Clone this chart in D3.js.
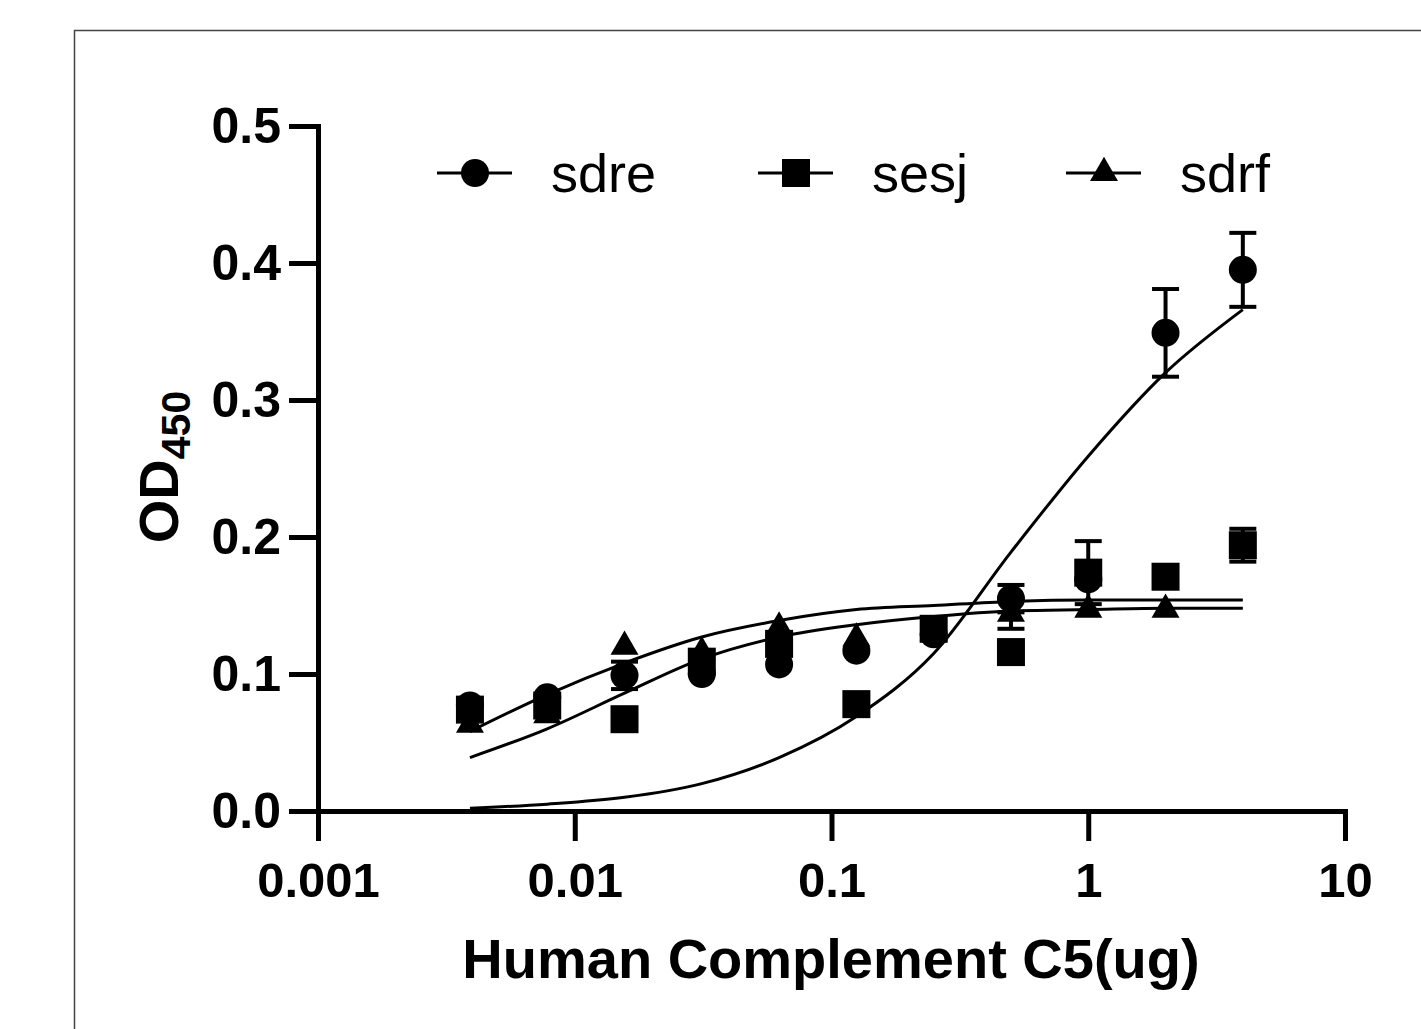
<!DOCTYPE html>
<html>
<head>
<meta charset="utf-8">
<script src="https://cdn.jsdelivr.net/npm/d3@7"></script>
<style>
  body { margin: 0; background: #fff; }
  text { font-family: Arial, "Liberation Sans", sans-serif; fill: #000; }
</style>
</head>
<body>
<script>
// doses (ug) of the 2-fold dilution series
const doses = [0.00390625, 0.0078125, 0.015625, 0.03125, 0.0625, 0.125, 0.25, 0.5, 1, 2, 4];

// mean OD450 and error (0 = no visible bar)
const sdreMean = [0.077, 0.083, 0.099, 0.100, 0.107, 0.117, 0.129, 0.155, 0.169, 0.349, 0.395];
const sdreErr  = [0, 0, 0.010, 0, 0, 0, 0, 0.010, 0, 0.032, 0.027];
const sesjMean = [0.074, 0.077, 0.067, 0.109, 0.122, 0.078, 0.133, 0.116, 0.174, 0.171, 0.194];
const sesjErr  = [0, 0, 0, 0, 0, 0, 0, 0, 0.023, 0, 0.012];
const sdrfMean = [0.063, 0.070, 0.120, 0.116, 0.134, 0.126, 0.130, 0.144, 0.147, 0.147, 0.190];
const sdrfErr  = [0, 0, 0, 0, 0, 0, 0, 0.011, 0, 0, 0];

// fitted curves at each dose
const sdreFit = [0.002, 0.005, 0.010, 0.020, 0.039, 0.069, 0.115, 0.189, 0.259, 0.320, 0.366];
const sesjFit = [0.039, 0.060, 0.086, 0.111, 0.127, 0.136, 0.142, 0.146, 0.147, 0.148, 0.148];
const sdrfFit = [0.058, 0.085, 0.108, 0.127, 0.139, 0.147, 0.150, 0.153, 0.154, 0.154, 0.154];

const seriesNames = ["sdre", "sesj", "sdrf"];
const xTicks = [0.001, 0.01, 0.1, 1, 10];
const yTicks = [0, 0.1, 0.2, 0.3, 0.4, 0.5];

const width = 1421, height = 1029;
const svg = d3.select("body").append("svg").attr("width", width).attr("height", height);

// outer frame
svg.append("rect")
  .attr("x", 74.5).attr("y", 30.5)
  .attr("width", 1400).attr("height", 1050)
  .attr("fill", "none").attr("stroke", "#444").attr("stroke-width", 1.5);

const x = d3.scaleLog().domain([0.001, 10]).range([318, 1345]);
const y = d3.scaleLinear().domain([0, 0.5]).range([811, 126]);

// axes
const yAxis = svg.append("g")
  .attr("transform", "translate(318,0)")
  .call(d3.axisLeft(y).tickValues(yTicks).tickFormat(d3.format(".1f"))
    .tickSize(29).tickSizeOuter(0).tickPadding(8));

const xAxis = svg.append("g")
  .attr("transform", "translate(0,811)")
  .call(d3.axisBottom(x).tickValues(xTicks).tickFormat(d3.format("~g"))
    .tickSize(30).tickSizeOuter(0).tickPadding(21));

[yAxis, xAxis].forEach(g => {
  g.attr("font-family", null).attr("font-size", null);
  g.select(".domain").attr("stroke", "#000").attr("stroke-width", 5).attr("stroke-linecap", "square");
  g.selectAll(".tick line").attr("stroke", "#000").attr("stroke-width", 5);
  g.selectAll(".tick text").attr("fill", "#000").style("font-weight", "bold");
});
yAxis.selectAll(".tick text").style("font-size", "50px");
xAxis.selectAll(".tick text").style("font-size", "49px");

// axis titles
svg.append("text")
  .attr("x", 831).attr("y", 978)
  .attr("text-anchor", "middle")
  .style("font-size", "56px").style("font-weight", "bold")
  .text("Human Complement C5(ug)");

const yTitle = svg.append("text")
  .attr("transform", "translate(178,467) rotate(-90)")
  .attr("text-anchor", "middle")
  .style("font-weight", "bold");
yTitle.append("tspan").style("font-size", "56px").text("OD");
yTitle.append("tspan").style("font-size", "41px").attr("dy", 12).text("450");

// curves
const line = d3.line()
  .x(d => x(d[0]))
  .y(d => y(d[1]))
  .curve(d3.curveMonotoneX);

[sdreFit, sesjFit, sdrfFit].forEach(fit => {
  svg.append("path")
    .datum(d3.zip(doses, fit))
    .attr("d", line)
    .attr("fill", "none")
    .attr("stroke", "#000")
    .attr("stroke-width", 3);
});

// markers
const symbols = [
  d3.symbol().type(d3.symbolCircle).size(Math.PI * 14 * 14),
  d3.symbol().type(d3.symbolSquare).size(28 * 28),
  d3.symbol().type(d3.symbolTriangle).size(340)
];
const means = [sdreMean, sesjMean, sdrfMean];
const errs = [sdreErr, sesjErr, sdrfErr];

means.forEach((m, si) => {
  const rows = doses.map((d, i) => ({ dose: d, v: m[i], e: errs[si][i] }));
  const g = svg.append("g");

  const bars = g.selectAll("g.err")
    .data(rows.filter(r => r.e > 0))
    .enter().append("g").attr("class", "err");
  bars.append("line")
    .attr("x1", d => x(d.dose)).attr("x2", d => x(d.dose))
    .attr("y1", d => y(d.v - d.e)).attr("y2", d => y(d.v + d.e))
    .attr("stroke", "#000").attr("stroke-width", 4);
  [-1, 1].forEach(s => {
    bars.append("line")
      .attr("x1", d => x(d.dose) - 13.5).attr("x2", d => x(d.dose) + 13.5)
      .attr("y1", d => y(d.v + s * d.e)).attr("y2", d => y(d.v + s * d.e))
      .attr("stroke", "#000").attr("stroke-width", 4);
  });

  g.selectAll("path.pt")
    .data(rows)
    .enter().append("path").attr("class", "pt")
    .attr("d", symbols[si])
    .attr("transform", d => `translate(${x(d.dose)},${y(d.v)})`)
    .attr("fill", "#000");
});

// legend
const legendX = [475, 796, 1104];
const legend = svg.selectAll("g.legend")
  .data(seriesNames)
  .enter().append("g").attr("class", "legend")
  .attr("transform", (d, i) => `translate(${legendX[i]},173)`);
legend.append("line")
  .attr("x1", -38).attr("x2", 37)
  .attr("stroke", "#000").attr("stroke-width", 3);
legend.append("path")
  .attr("d", (d, i) => symbols[i]())
  .attr("fill", "#000");
legend.append("text")
  .attr("x", 76).attr("y", 19)
  .style("font-size", "54px")
  .text(d => d);
</script>
</body>
</html>
